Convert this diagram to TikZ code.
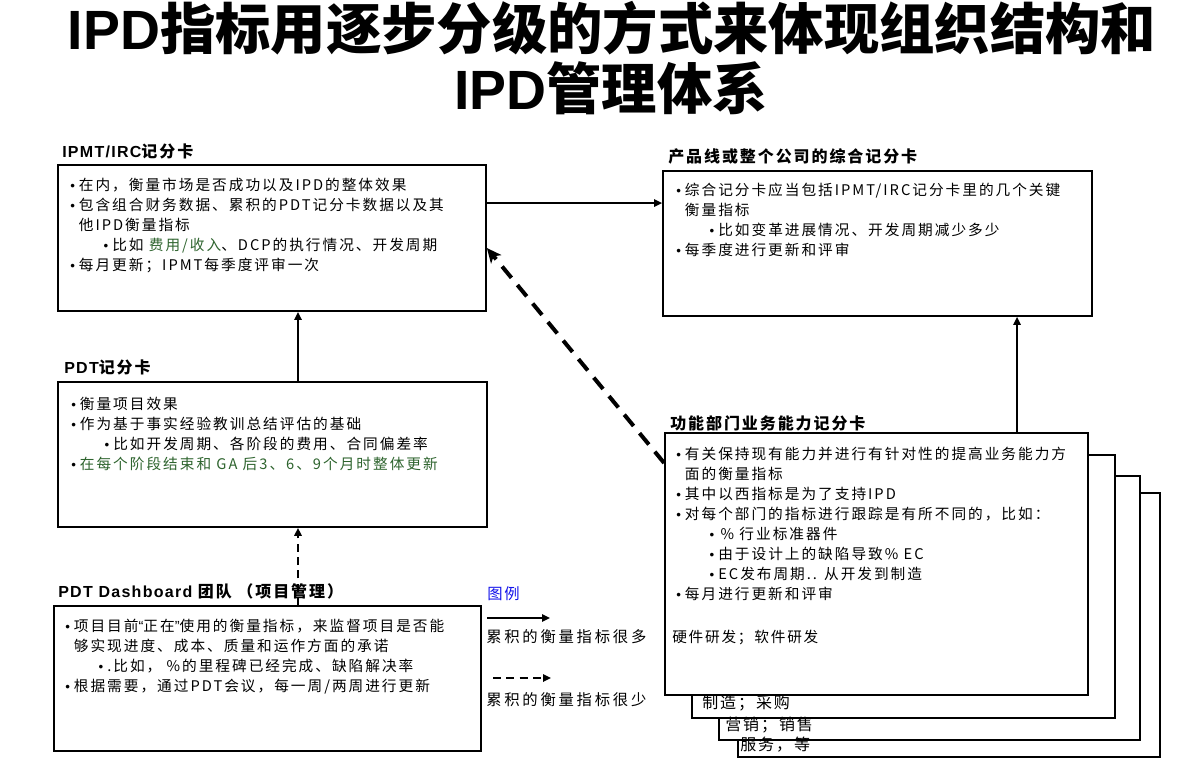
\documentclass[tikz,border=0pt]{standalone}
\usepackage{fontspec}
\setmainfont{Noto Sans CJK SC}
\newfontfamily\latf{Liberation Sans}
\newfontfamily\latfsp[LetterSpace=8]{Liberation Sans}
\newfontfamily\cjksp[LetterSpace=13.6]{Noto Sans CJK SC}
\newfontfamily\cjkhd[LetterSpace=12]{Noto Sans CJK SC}
\newfontfamily\cjklg[LetterSpace=12]{Noto Sans CJK SC}
\newfontfamily\cjkleg[LetterSpace=18]{Noto Sans CJK SC}
\usetikzlibrary{arrows.meta,fit}
\definecolor{tgreen}{RGB}{46,100,46}
\definecolor{lgblue}{RGB}{20,20,235}
\newcommand{\bul}{\makebox[6.5pt][l]{\latf\fontsize{10}{10}\selectfont\raisebox{0.3pt}{•}}}
\newcommand{\ind}{\hspace*{6.5pt}}
\newcommand{\subb}{\hspace*{25pt}}
\tikzset{
  box/.style={draw, line width=1.3pt, inner sep=0pt, fill=white},
  page/.style={draw, line width=0.8pt, inner sep=0pt, fill=white},
  body/.style={anchor=north west, inner sep=0pt, align=left, font=\cjksp\fontsize{11}{15}\selectfont},
  head/.style={anchor=west, inner sep=0pt, font=\cjkhd\bfseries\fontsize{12}{14}\selectfont},
  lbl/.style={anchor=west, inner sep=0pt, font=\cjklg\fontsize{11.5}{13}\selectfont},
  arr/.style={line width=1.3pt, -{Triangle[length=6pt,width=5.5pt]}},
  darr/.style={line width=1.8pt, dash pattern=on 6pt off 4pt, -{Triangle[length=6pt,width=5.5pt]}},
  bigdarr/.style={line width=3pt, dash pattern=on 11pt off 7pt, -{Stealth[length=11pt,width=10pt,inset=3pt]}},
}
\begin{document}
\begin{tikzpicture}[x=0.75pt,y=-0.75pt]
\useasboundingbox (0,0) rectangle (1198,775);
\fill[white] (0,0) rectangle (1198,775);

% title
\node[inner sep=0pt, font=\bfseries\fontsize{41.5}{48}\selectfont] (t1) at (612,28) {{\latf IPD}指标用逐步分级的方式来体现组织结构和};
\node[inner sep=0pt, font=\bfseries\fontsize{41.5}{48}\selectfont] (t2) at (611,88) {{\latf IPD}管理体系};

% boxes
\node[box, fit={(58,165) (486,311)}] (ipmt) {};
\node[box, fit={(663,171) (1092,316)}] (rt) {};
\node[box, fit={(58,382) (487,527)}] (pdt) {};
\node[box, fit={(54,606) (481,751)}] (dash) {};
\node[page, fit={(738,493) (1160,757)}] (p4) {};
\node[page, fit={(719,476) (1140,740)}] (p3) {};
\node[page, fit={(692,455) (1115,718)}] (p2) {};
\node[box, fit={(665,433) (1088,695)}] (func) {};

% headings
\node[head] (h1) at (62,151) {{\latfsp IPMT/IRC}记分卡};
\node[head] (h2) at (668,156) {产品线或整个公司的综合记分卡};
\node[head] (h3) at (64,367) {{\latfsp PDT}记分卡};
\node[head] (h4) at (58,591) {{\latfsp PDT Dashboard} 团队 （项目管理）};
\node[head] (h5) at (670,423) {功能部门业务能力记分卡};

% body texts
\node[body] (x1) at (70,178) {\bul 在内，衡量市场是否成功以及IPD的整体效果\\
\bul 包含组合财务数据、累积的PDT记分卡数据以及其\\
\ind 他IPD衡量指标\\
\subb\bul 比如 \textcolor{tgreen}{费用/收入}、DCP的执行情况、开发周期\\
\bul 每月更新；IPMT每季度评审一次};

\node[body] (x2) at (676,183) {\bul 综合记分卡应当包括IPMT/IRC记分卡里的几个关键\\
\ind 衡量指标\\
\subb\bul 比如变革进展情况、开发周期减少多少\\
\bul 每季度进行更新和评审};

\node[body] (x3) at (71,397) {\bul 衡量项目效果\\
\bul 作为基于事实经验教训总结评估的基础\\
\subb\bul 比如开发周期、各阶段的费用、合同偏差率\\
\bul \textcolor{tgreen}{在每个阶段结束和 GA 后3、6、9个月时整体更新}};

\node[body] (x4) at (65,619) {\bul 项目目前{\latf “}正在{\latf ”}使用的衡量指标，来监督项目是否能\\
\ind 够实现进度、成本、质量和运作方面的承诺\\
\subb\bul .比如， \%的里程碑已经完成、缺陷解决率\\
\bul 根据需要，通过PDT会议，每一周/两周进行更新};

\node[body] (x5) at (676,447) {\bul 有关保持现有能力并进行有针对性的提高业务能力方\\
\ind 面的衡量指标\\
\bul 其中以西指标是为了支持IPD\\
\bul 对每个部门的指标进行跟踪是有所不同的，比如：\\
\subb\bul \,\% 行业标准器件\\
\subb\bul 由于设计上的缺陷导致\% EC\\
\subb\bul EC发布周期.. 从开发到制造\\
\bul 每月进行更新和评审};

\node[anchor=west, inner sep=0pt, font=\cjklg\fontsize{11}{13}\selectfont] (hw) at (672,637) {硬件研发；软件研发};
\node[anchor=west, inner sep=0pt, font=\cjklg\fontsize{12}{14}\selectfont] (mf) at (702,703) {制造；采购};
\node[anchor=west, inner sep=0pt, font=\cjklg\fontsize{12}{14}\selectfont] (mk) at (725,725) {营销；销售};
\node[anchor=west, inner sep=0pt, font=\cjklg\fontsize{12}{14}\selectfont] (sv) at (740,745) {服务，等};

% legend
\node[lbl, text=lgblue] (lg) at (487,594) {图例};
\node[lbl, font=\cjkleg\fontsize{11.5}{13}\selectfont] (lg1) at (486,637) {累积的衡量指标很多};
\node[lbl, font=\cjkleg\fontsize{11.5}{13}\selectfont] (lg2) at (486,700) {累积的衡量指标很少};
\coordinate (la1) at (487,618);
\coordinate (lb1) at (550,618);
\coordinate (la2) at (493,678);
\coordinate (lb2) at (551,678);
\draw[arr] (la1) -- (lb1);
\draw[darr] (la2) -- (lb2);

% connectors
\coordinate (ya) at (0,203);
\draw[arr] (ipmt.east |- ya) -- (rt.west |- ya);
\coordinate (va) at (298,0);
\draw[arr] (pdt.north -| va) -- (ipmt.south -| va);
\draw[darr] (dash.north -| va) -- (pdt.south -| va);
\coordinate (vb) at (1017,0);
\draw[arr] (func.north -| vb) -- (rt.south -| vb);
\coordinate (yb) at (0,463);
\coordinate (yc) at (0,248);
\draw[bigdarr] (func.west |- yb) -- (ipmt.east |- yc);
\end{tikzpicture}
\end{document}
